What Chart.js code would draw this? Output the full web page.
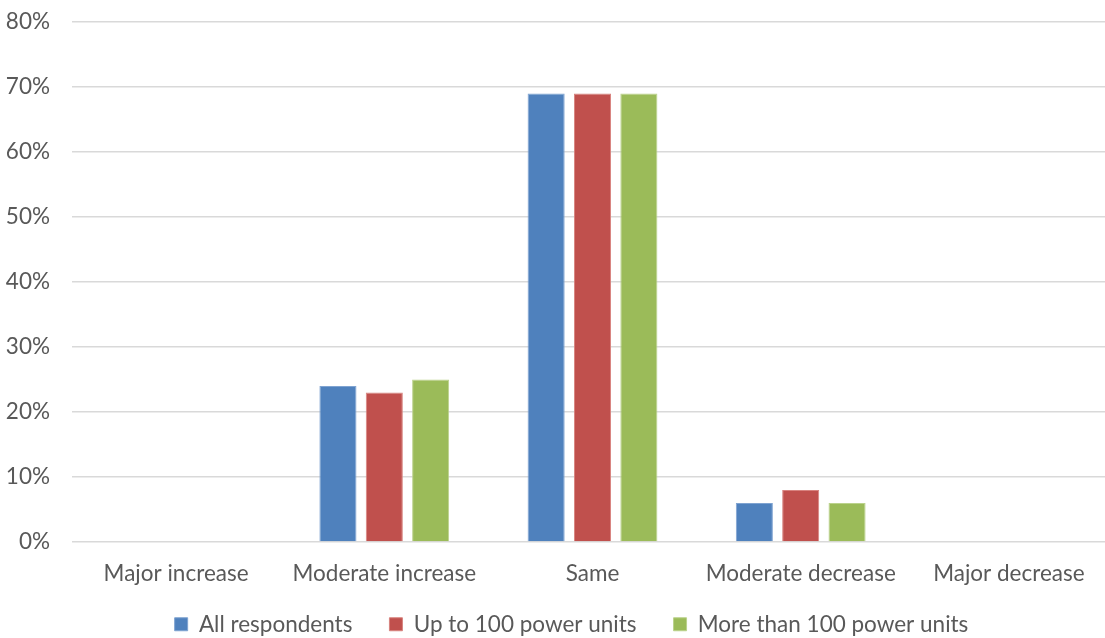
<!DOCTYPE html>
<html>
<head>
<meta charset="utf-8">
<script src="https://cdn.jsdelivr.net/npm/chart.js@4.4.1/dist/chart.umd.min.js"></script>
<style>
  html, body { margin: 0; padding: 0; background: #ffffff; overflow: hidden; }
  #wrap { width: 1113px; height: 638px; position: relative; }
</style>
</head>
<body>
<div id="wrap"><canvas id="chart"></canvas></div>
<script>
// Categories of expected change
const categories = ["Major increase", "Moderate increase", "Same", "Moderate decrease", "Major decrease"];

// Share of respondents per group (percent)
const allRespondents = [0, 24, 69, 6, 0];
const upTo100Units = [0, 23, 69, 8, 0];
const moreThan100Units = [0, 25, 69, 6, 0];

const seriesNames = ["All respondents", "Up to 100 power units", "More than 100 power units"];

// Y axis range and step (percent)
const yMin = 0;
const yMax = 80;
const yStep = 10;

const fontFamily = "Lato, 'Open Sans', sans-serif";
const fontSize = 22.5;
const textColor = "#595959";

// Keep wide spacing between legend items while pulling the row up under the axis labels,
// and centre the row under the plot rather than the whole canvas
const legendPlace = {
  id: "legendPlace",
  afterLayout(chart) {
    const lg = chart.legend;
    if (!lg) return;
    const lift = 15;
    const inset = 30;
    lg.top -= lift;
    lg.left += inset;
    if (lg.legendHitBoxes) lg.legendHitBoxes.forEach(b => { b.top -= lift; b.left += inset / 2; });
  }
};

new Chart(document.getElementById("chart"), {
  type: "bar",
  data: {
    labels: categories,
    datasets: [
      { label: seriesNames[0], data: allRespondents, backgroundColor: "#4F81BD", borderColor: "#7FA3D1", borderWidth: 1 },
      { label: seriesNames[1], data: upTo100Units, backgroundColor: "#C0504D", borderColor: "#D8837F", borderWidth: 1 },
      { label: seriesNames[2], data: moreThan100Units, backgroundColor: "#9BBB59", borderColor: "#BBD28C", borderWidth: 1 }
    ]
  },
  plugins: [legendPlace],
  options: {
    responsive: true,
    maintainAspectRatio: false,
    animation: false,
    datasets: { bar: { categoryPercentage: 0.668, barPercentage: 0.8 } },
    layout: { padding: { top: 22, right: 0, bottom: 0, left: 0 } },
    plugins: {
      legend: {
        position: "bottom",
        maxHeight: 47,
        labels: {
          font: { family: fontFamily, size: fontSize },
          color: textColor,
          boxWidth: 13,
          boxHeight: 13,
          padding: 37
        }
      },
      tooltip: { enabled: false }
    },
    scales: {
      x: {
        grid: { display: false, drawTicks: false },
        border: { display: false },
        ticks: {
          font: { family: fontFamily, size: fontSize },
          color: textColor,
          padding: 18,
          maxRotation: 0,
          autoSkip: false
        },
        afterFit: (s) => { s.height = 49; s.paddingLeft = 0; s.paddingRight = 0; }
      },
      y: {
        min: yMin,
        max: yMax,
        grid: { color: "#d9d9d9", lineWidth: 1.5, drawTicks: false },
        border: { display: false },
        ticks: {
          stepSize: yStep,
          font: { family: fontFamily, size: fontSize },
          color: textColor,
          padding: 22,
          callback: (v) => v + "%"
        },
        afterFit: (s) => { s.width = 72; s.paddingTop = 0; s.paddingBottom = 0; }
      }
    }
  }
});
</script>
</body>
</html>
